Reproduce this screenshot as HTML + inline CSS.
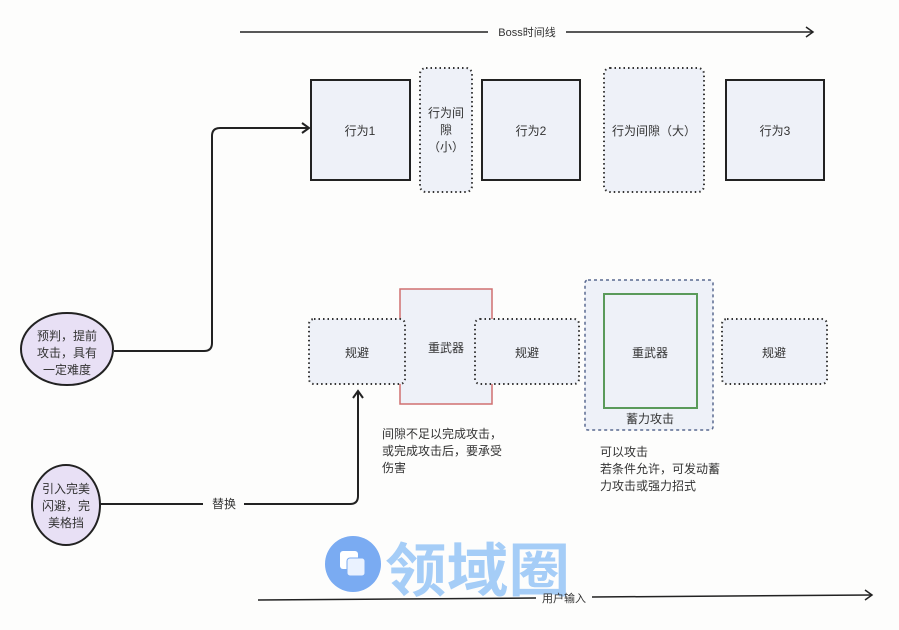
<!DOCTYPE html>
<html><head><meta charset="utf-8"><style>
html,body{margin:0;padding:0;background:#fdfdfc;}
svg{display:block;font-family:"Liberation Sans","Noto Sans CJK SC",sans-serif;}
</style></head><body>
<svg width="899" height="630" viewBox="0 0 899 630" xmlns="http://www.w3.org/2000/svg">
<rect width="899" height="630" fill="#fdfdfc"/>
<line x1="240" y1="32" x2="488" y2="32" stroke="#222" stroke-width="1.5"/>
<line x1="566" y1="32" x2="813" y2="32" stroke="#222" stroke-width="1.5"/>
<polyline points="806,27 813,32 806,37" fill="none" stroke="#222" stroke-width="1.5"/>
<text x="527" y="36" font-size="11" text-anchor="middle" fill="#333">Boss时间线</text>

<rect x="311" y="80" width="99" height="100" fill="#eef1f8" stroke="#222" stroke-width="2"/>
<text x="360" y="135" font-size="12" text-anchor="middle" fill="#333">行为1</text>
<rect x="420" y="68" width="52" height="124" rx="6" fill="#eef1f8" stroke="#333" stroke-width="2" stroke-dasharray="1.5 3"/>
<text x="446" y="117" font-size="12" text-anchor="middle" fill="#333">行为间</text>
<text x="446" y="134" font-size="12" text-anchor="middle" fill="#333">隙</text>
<text x="446" y="151" font-size="12" text-anchor="middle" fill="#333">（小）</text>
<rect x="482" y="80" width="98" height="100" fill="#eef1f8" stroke="#222" stroke-width="2"/>
<text x="531" y="135" font-size="12" text-anchor="middle" fill="#333">行为2</text>
<rect x="604" y="68" width="100" height="124" rx="6" fill="#eef1f8" stroke="#333" stroke-width="2" stroke-dasharray="1.5 3"/>
<text x="654" y="135" font-size="12" text-anchor="middle" fill="#333">行为间隙（大）</text>
<rect x="726" y="80" width="98" height="100" fill="#eef1f8" stroke="#222" stroke-width="2"/>
<text x="775" y="135" font-size="12" text-anchor="middle" fill="#333">行为3</text>

<rect x="400" y="289" width="92" height="115" fill="#eef1f8" stroke="#d07070" stroke-width="1.5"/>
<text x="446" y="352" font-size="12" text-anchor="middle" fill="#333">重武器</text>
<rect x="309" y="319" width="96" height="65" rx="5" fill="#eef1f8" stroke="#333" stroke-width="2" stroke-dasharray="1.5 3"/>
<text x="357" y="357" font-size="12" text-anchor="middle" fill="#333">规避</text>
<rect x="475" y="319" width="104" height="65" rx="5" fill="#eef1f8" stroke="#333" stroke-width="2" stroke-dasharray="1.5 3"/>
<text x="527" y="357" font-size="12" text-anchor="middle" fill="#333">规避</text>
<rect x="585" y="280" width="128" height="150" rx="3" fill="#eef1f8" stroke="#5a6a90" stroke-width="1.5" stroke-dasharray="3 3"/>
<rect x="604" y="294" width="93" height="114" fill="#eef1f8" stroke="#5a9a5a" stroke-width="2"/>
<text x="650" y="357" font-size="12" text-anchor="middle" fill="#333">重武器</text>
<text x="650" y="423" font-size="12" text-anchor="middle" fill="#333">蓄力攻击</text>
<rect x="722" y="319" width="105" height="65" rx="5" fill="#eef1f8" stroke="#333" stroke-width="2" stroke-dasharray="1.5 3"/>
<text x="774" y="357" font-size="12" text-anchor="middle" fill="#333">规避</text>

<text x="382" y="438" font-size="12" fill="#333">间隙不足以完成攻击，</text>
<text x="382" y="455" font-size="12" fill="#333">或完成攻击后，要承受</text>
<text x="382" y="472" font-size="12" fill="#333">伤害</text>
<text x="600" y="456" font-size="12" fill="#333">可以攻击</text>
<text x="600" y="473" font-size="12" fill="#333">若条件允许，可发动蓄</text>
<text x="600" y="490" font-size="12" fill="#333">力攻击或强力招式</text>

<ellipse cx="67" cy="349" rx="46" ry="36" fill="#e8e0f5" stroke="#222" stroke-width="2"/>
<text x="67" y="340" font-size="12" text-anchor="middle" fill="#333">预判，提前</text>
<text x="67" y="357" font-size="12" text-anchor="middle" fill="#333">攻击，具有</text>
<text x="67" y="374" font-size="12" text-anchor="middle" fill="#333">一定难度</text>
<ellipse cx="66" cy="505" rx="34" ry="40" fill="#e8e0f5" stroke="#222" stroke-width="2"/>
<text x="66" y="493" font-size="12" text-anchor="middle" fill="#333">引入完美</text>
<text x="66" y="510" font-size="12" text-anchor="middle" fill="#333">闪避，完</text>
<text x="66" y="527" font-size="12" text-anchor="middle" fill="#333">美格挡</text>

<path d="M114,351 H204 Q212,351 212,343 V136 Q212,128 220,128 H309" fill="none" stroke="#222" stroke-width="2"/>
<polyline points="302,123 309,128 302,133" fill="none" stroke="#222" stroke-width="2"/>
<path d="M100,504 H203 M244,504 H350 Q358,504 358,496 V392" fill="none" stroke="#222" stroke-width="2"/>
<polyline points="353,398 358,391 363,398" fill="none" stroke="#222" stroke-width="2"/>
<text x="224" y="508" font-size="12" text-anchor="middle" fill="#333">替换</text>

<circle cx="353" cy="564" r="28" fill="#7aabf2"/>
<rect x="340" y="551" width="18" height="18" rx="3" fill="#fff"/>
<rect x="347" y="558" width="18" height="18" rx="3" fill="#eaf2ff" stroke="#7aabf2" stroke-width="1"/>
<text x="385" y="591" font-size="58" font-weight="bold" textLength="185" lengthAdjust="spacingAndGlyphs" fill="#a5cdf7" font-family="Noto Sans CJK SC, sans-serif">领域圈</text>

<line x1="258" y1="600" x2="536" y2="598" stroke="#222" stroke-width="1.5"/>
<line x1="592" y1="597" x2="872" y2="595" stroke="#222" stroke-width="1.5"/>
<polyline points="865,590 872,595 865,600" fill="none" stroke="#222" stroke-width="1.5"/>
<text x="564" y="602" font-size="11" text-anchor="middle" fill="#333">用户输入</text>
</svg>
</body></html>
